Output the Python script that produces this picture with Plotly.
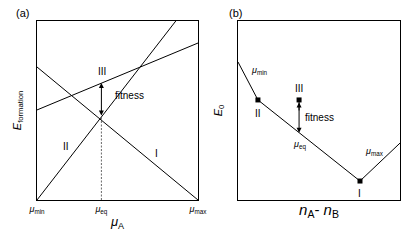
import plotly.graph_objects as go

# ---------- data ----------
# panel (a): formation energy vs chemical potential (mu_min = 0, mu_max = 1)
mu_ticks = [0.0, 0.4, 1.0]
mu_tick_labels = ["<i>μ</i><sub>min</sub>", "<i>μ</i><sub>eq</sub>", "<i>μ</i><sub>max</sub>"]
line_I_mu = [0.0, 1.0]
line_I_E = [0.743, 0.0]
line_II_mu = [0.0, 1.0]
line_II_E = [0.0, 1.16]
line_III_mu = [0.0, 1.0]
line_III_E = [0.503, 0.877]
mu_eq = 0.4
E_eq_low = 0.464
E_eq_III = 0.653

# panel (b): E0 vs nA - nB
hull_x = [0.0, 0.123, 0.753, 1.0]
hull_E = [0.771, 0.559, 0.106, 0.318]
pt_II = (0.123, 0.559)
pt_I = (0.753, 0.106)
pt_III = (0.377, 0.559)
E_III_on_hull = 0.376

FONT = "Liberation Sans, Arial, sans-serif"
BLACK = "#000000"

# page body has an 8px margin; figure is sized to fit inside it
OFF = 8
W, H = 415 - 2 * OFF, 240 - 2 * OFF
def px(x):
    return (x - OFF) / W
def py(y):
    return (H - (y - OFF)) / H

fig = go.Figure()

# panel a lines
for xs, ys in [(line_I_mu, line_I_E), (line_II_mu, line_II_E), (line_III_mu, line_III_E)]:
    fig.add_trace(go.Scatter(x=xs, y=ys, mode="lines", line=dict(color=BLACK, width=1),
                             xaxis="x", yaxis="y", showlegend=False, hoverinfo="skip"))
# dotted vertical at mu_eq
fig.add_trace(go.Scatter(x=[mu_eq, mu_eq], y=[0, E_eq_low], mode="lines",
                         line=dict(color=BLACK, width=0.6, dash="2px,1.5px"),
                         xaxis="x", yaxis="y", showlegend=False, hoverinfo="skip"))

# panel b hull
fig.add_trace(go.Scatter(x=hull_x, y=hull_E, mode="lines", line=dict(color=BLACK, width=1),
                         xaxis="x2", yaxis="y2", showlegend=False, hoverinfo="skip"))
fig.add_trace(go.Scatter(x=[pt_II[0], pt_I[0], pt_III[0]], y=[pt_II[1], pt_I[1], pt_III[1]],
                         mode="markers", marker=dict(symbol="square", size=5, color=BLACK),
                         xaxis="x2", yaxis="y2", showlegend=False, hoverinfo="skip"))

box = dict(showline=True, linecolor=BLACK, linewidth=1.2, mirror=True, showgrid=False,
           zeroline=False, range=[0, 1], fixedrange=True, automargin=False)

fig.update_layout(
    width=W, height=H, autosize=False,
    margin=dict(l=0, r=0, t=0, b=0),
    paper_bgcolor="white", plot_bgcolor="white",
    font=dict(family=FONT, color=BLACK, size=10),
    xaxis=dict(**box, domain=[px(37), px(198)], tickmode="array", tickvals=mu_ticks,
               ticktext=mu_tick_labels, ticks="", tickfont=dict(size=9),
               title=dict(text="<i>μ</i><sub>A</sub>", font=dict(size=13), standoff=2)),
    yaxis=dict(**box, domain=[py(200), py(21)], showticklabels=False, ticks="",
               title=dict(text="<i>E</i><sub>formation</sub>", font=dict(size=11), standoff=12)),
    xaxis2=dict(**box, domain=[px(238), px(400)], anchor="y2", showticklabels=False, ticks="",
                title=dict(text="<i>n</i><sub>A</sub>- <i>n</i><sub>B</sub>", font=dict(size=15), standoff=4)),
    yaxis2=dict(**box, domain=[py(200), py(21)], anchor="x2", showticklabels=False, ticks="",
                title=dict(text="<i>E</i><sub>0</sub>", font=dict(size=11), standoff=12)),
)

ann = []
def txt(x, y, t, xref="x", yref="y", size=10, xanchor="center"):
    ann.append(dict(x=x, y=y, text=t, xref=xref, yref=yref, showarrow=False,
                    xanchor=xanchor, yanchor="middle",
                    font=dict(size=size, family=FONT, color=BLACK)))

# panel labels
txt(px(22), py(13), "(a)", xref="paper", yref="paper", size=11)
txt(px(235), py(13), "(b)", xref="paper", yref="paper", size=11)

# panel a labels
txt(0.405, 0.72, "III")
txt(0.47, 0.585, "fitness", xanchor="left")
txt(0.18, 0.30, "II")
txt(0.745, 0.26, "I")
# double arrow in a
ann.append(dict(x=mu_eq, y=E_eq_III, ax=mu_eq, ay=E_eq_low, xref="x", yref="y", axref="x", ayref="y",
                showarrow=True, arrowhead=2, startarrowhead=2, arrowside="end+start",
                arrowsize=1, arrowwidth=1, arrowcolor=BLACK, text=""))

# panel b labels
txt(0.07, 0.725, "<i>μ</i><sub>min</sub>", xref="x2", yref="y2", size=9, xanchor="left")
txt(0.123, 0.485, "II", xref="x2", yref="y2")
txt(0.377, 0.625, "III", xref="x2", yref="y2")
txt(0.40, 0.46, "fitness", xref="x2", yref="y2", xanchor="left")
txt(0.38, 0.31, "<i>μ</i><sub>eq</sub>", xref="x2", yref="y2", size=9)
txt(0.84, 0.27, "<i>μ</i><sub>max</sub>", xref="x2", yref="y2", size=9)
txt(0.753, 0.035, "I", xref="x2", yref="y2")
# arrow in b: down to the hull
ann.append(dict(x=pt_III[0], y=E_III_on_hull, ax=pt_III[0], ay=pt_III[1], xref="x2", yref="y2",
                axref="x2", ayref="y2", showarrow=True, arrowhead=2,
                arrowside="end", arrowsize=1, arrowwidth=1, arrowcolor=BLACK, text=""))
# up-pointing head just below the III marker
ann.append(dict(x=pt_III[0], y=pt_III[1], ax=0, ay=12, xref="x2", yref="y2",
                showarrow=True, arrowhead=2, arrowsize=1, arrowwidth=1, standoff=2.5,
                arrowcolor=BLACK, text=""))

fig.update_layout(annotations=ann)
fig.write_html("out.html")
